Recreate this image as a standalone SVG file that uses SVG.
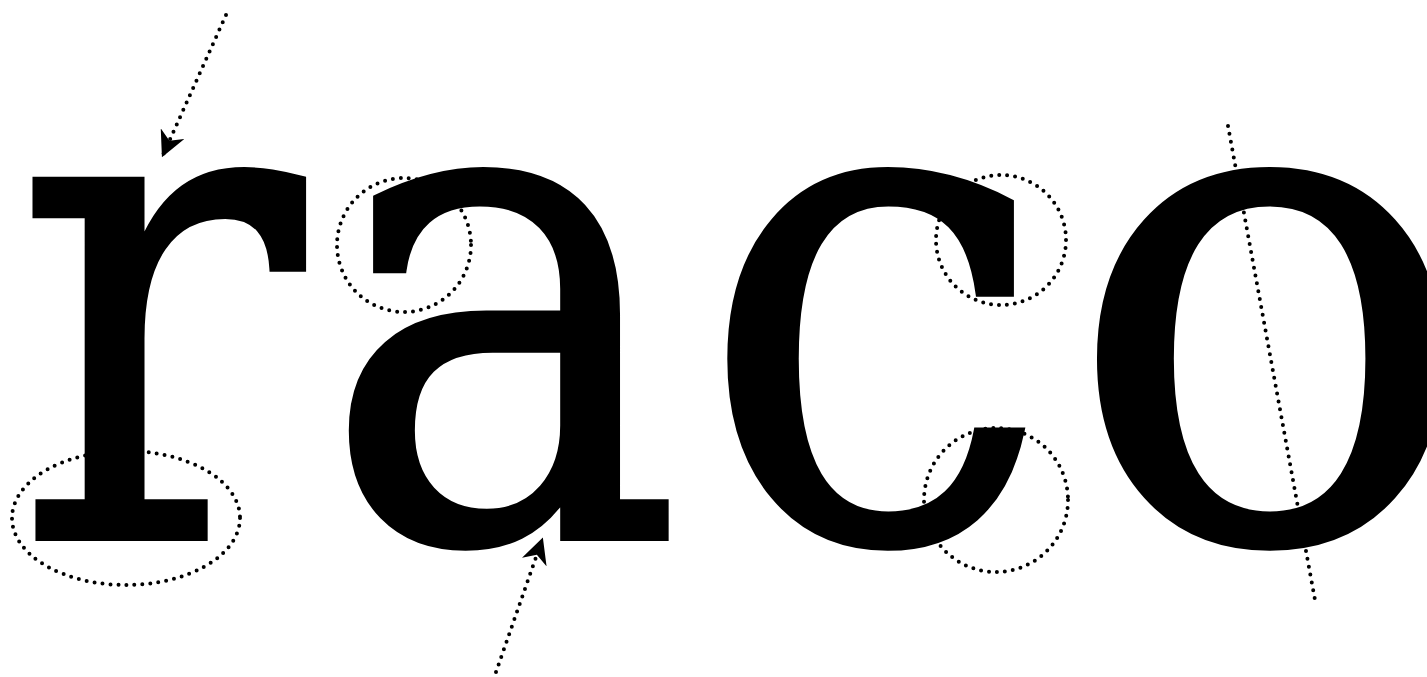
<svg xmlns="http://www.w3.org/2000/svg" width="1427" height="677" viewBox="0 0 1427 677">
<style>
.glyph{font-family:"DejaVu Serif","Liberation Serif",serif;font-size:690px;font-weight:normal;fill:#000;stroke:#000;stroke-width:6;stroke-linejoin:miter}
.dot{fill:none;stroke:#000;stroke-width:4;stroke-linecap:round;stroke-dasharray:0 8}
</style>
<defs>
<marker id="ah" viewBox="0 0 10 10" refX="9" refY="5" markerWidth="26" markerHeight="26" markerUnits="userSpaceOnUse" orient="auto">
<path d="M0,0 L10,5 L0,10 L3,5 Z" fill="#000"/>
</marker>
</defs>
<rect width="1427" height="677" fill="#fff"/>
<g id="letter-ra" transform="scale(0.88,1)">
<text class="glyph" y="538"><tspan x="15">r</tspan><tspan x="365">a</tspan></text>
</g>
<g id="letter-c" transform="scale(0.911,1)">
<text class="glyph" x="767" y="538">c</text>
</g>
<g id="letter-o" transform="scale(0.98,1)">
<text class="glyph" x="1088" y="538">o</text>
</g>
<g id="connectors">
<path class="dot" d="M226,15 L163,155" marker-end="url(#ah)"/>
<path class="dot" d="M496,672 L542,540" marker-end="url(#ah)"/>
<path class="dot" d="M1228,126 L1315,600"/>
</g>
<g id="highlights">
<ellipse class="dot" cx="126" cy="518" rx="114" ry="67"/>
<circle class="dot" cx="404" cy="245" r="67"/>
<circle class="dot" cx="1001" cy="240" r="65"/>
<circle class="dot" cx="996" cy="500" r="72"/>
</g>
</svg>
